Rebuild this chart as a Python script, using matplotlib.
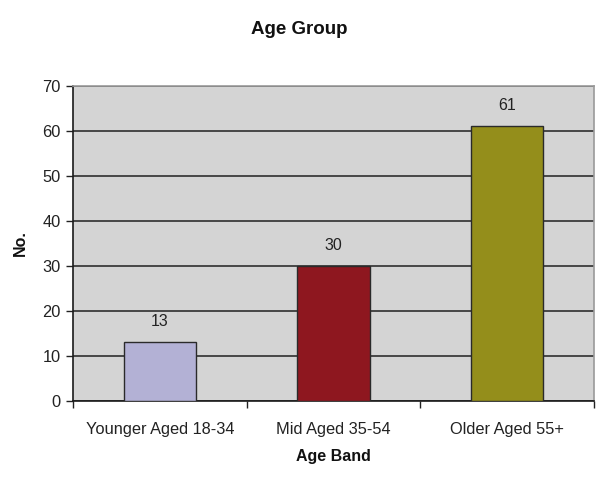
import numpy as np
import matplotlib
matplotlib.use("Agg")
import matplotlib.pyplot as plt

plt.rcParams['font.family'] = ['Liberation Sans', 'DejaVu Sans']

# data
bands = ['Younger Aged 18-34', 'Mid Aged 35-54', 'Older Aged 55+']
counts = [13, 30, 61]
colors = ['#b3b1d5', '#8e171f', '#948e1b']
yticks = [0, 10, 20, 30, 40, 50, 60, 70]

fig = plt.figure(figsize=(5.96, 4.83), dpi=100)
ax = fig.add_axes([0.1225, 0.1698, 0.8741, 0.6522])
ax.set_facecolor('#d4d4d4')

x = np.arange(len(bands))
ax.set_axisbelow(True)
ax.yaxis.grid(True, color='#3c3c3c', linewidth=1.3)
bars = ax.bar(x, counts, width=0.415, color=colors, edgecolor='#2a2a2a', linewidth=1.0, zorder=3)

for xi, v in zip(x, counts):
    ax.annotate(str(v), (xi, v), xytext=(0, 9.5), textcoords='offset points',
                ha='center', va='bottom', fontsize=11.5, color='#222222')

ax.set_xlim(-0.5, len(bands) - 0.5)
ax.set_ylim(0, 70)
ax.set_yticks(yticks)
ax.set_xticks(x)
ax.set_xticklabels(bands)
ax.set_xticks(np.arange(len(bands) + 1) - 0.5, minor=True)
ax.tick_params(axis='x', which='major', length=0, pad=15, labelsize=11.8, labelcolor='#222222')
ax.tick_params(axis='x', which='minor', length=5, width=1, color='#222222')
ax.tick_params(axis='y', length=5, width=1, labelsize=11.8, labelcolor='#222222', color='#222222', pad=4)

for s in ['top', 'right']:
    ax.spines[s].set_color('#9a9a9a')
    ax.spines[s].set_linewidth(1.2)
for s in ['left', 'bottom']:
    ax.spines[s].set_color('#1a1a1a')
    ax.spines[s].set_linewidth(1.2)

ax.set_xlabel('Age Band', fontsize=11.5, fontweight='bold', labelpad=9, color='#111111')
ax.set_ylabel('No.', fontsize=11.5, fontweight='bold', labelpad=10, color='#111111')
fig.text(0.502, 0.938, 'Age Group', ha='center', va='center', fontsize=13.5, fontweight='bold', color='#111111')

fig.savefig('out.png', dpi=100)
